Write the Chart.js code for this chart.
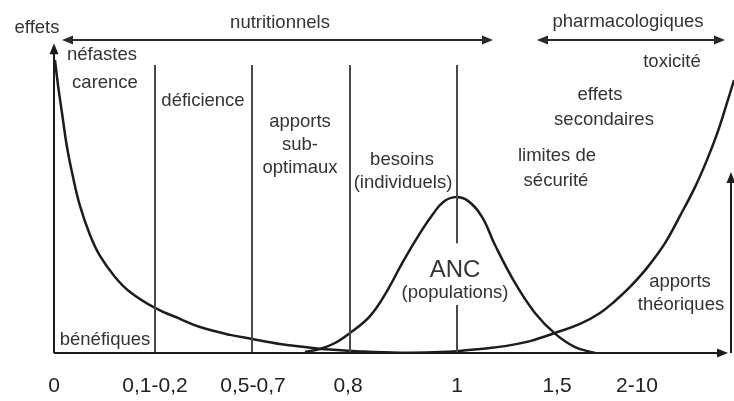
<!DOCTYPE html>
<html lang="fr">
<head>
<meta charset="utf-8">
<title>Apports nutritionnels et effets</title>
<script src="https://cdn.jsdelivr.net/npm/chart.js@4.4.1/dist/chart.umd.min.js"></script>
<style>
    html, body { margin: 0; padding: 0; background: #fff; }
    #chart { display: block; }
</style>
</head>
<body>
<canvas id="chart" width="734" height="401"></canvas>
<script>
// ========================================
// Données
// ========================================

// Graduations de l'axe des apports
const tickValues = [0, 1.01, 1.99, 2.94, 4.03, 5.03, 5.83];
const tickLabels = ['0', '0,1-0,2', '0,5-0,7', '0,8', '1', '1,5', '2-10'];

// Courbe en U : effets (néfastes en haut, bénéfiques en bas)
const effetsX = [0.01, 0.04, 0.08, 0.13, 0.19, 0.26, 0.36, 0.46, 0.61, 0.76, 1.01, 1.26, 1.46, 1.76, 1.98,
                 2.26, 2.46, 2.76, 3.06, 3.46, 3.86, 4.03, 4.26, 4.51, 4.76, 5.01, 5.26, 5.46, 5.61, 5.76,
                 5.93, 6.11, 6.26, 6.41, 6.53, 6.64, 6.73, 6.80];
const effetsY = [93.6, 85.6, 76.7, 65.8, 56.2, 47.0, 37.7, 31.0, 24.3, 19.5, 14.4, 10.9, 8.3, 5.8, 4.5,
                 2.9, 2.1, 1.1, 0.5, 0.1, 0.3, 0.6, 1.3, 2.2, 3.8, 6.4, 9.3, 12.8, 16.6, 21.1,
                 27.2, 35.1, 43.8, 53.0, 61.7, 70.9, 79.9, 87.2];

// Courbe en cloche : ANC (populations)
const ancX = [2.51, 2.66, 2.81, 2.96, 3.16, 3.33, 3.49, 3.66, 3.79, 3.89, 4.01, 4.14, 4.28, 4.41, 4.61,
              4.81, 5.01, 5.21, 5.41];
const ancY = [0.3, 1.3, 3.2, 6.4, 11.8, 19.8, 29.2, 38.3, 44.4, 48.2, 49.8, 48.6, 43.5, 34.5, 22.4,
              12.8, 6.2, 1.9, 0];

// Limites verticales entre les zones
const limitesX = [1.01, 1.98, 2.96, 4.03];
const limiteHaut = 92;
const coupureANC = [15.3, 35.1];   // trou dans la ligne "1" pour le texte ANC

// Flèches du haut (nutritionnels / pharmacologiques) et flèche de droite
const flechesHaut = [[0.08, 4.39], [4.83, 6.71]];
const flecheHautY = 100;
const flecheDroite = { x: 6.77, y: 57.8 };
const axeFinX = 6.74;
const axeFinY = 99;

// Textes (position en unités du graphique, ligne de base)
const textes = [
    { t: 'effets', x: -0.17, y: 102.2 },
    { t: 'nutritionnels', x: 2.26, y: 103.8 },
    { t: 'pharmacologiques', x: 5.74, y: 104.2 },
    { t: 'néfastes', x: 0.48, y: 93.6 },
    { t: 'carence', x: 0.51, y: 84.7 },
    { t: 'déficience', x: 1.49, y: 78.9 },
    { t: 'toxicité', x: 6.18, y: 91.4 },
    { t: 'effets', x: 5.46, y: 80.8 },
    { t: 'secondaires', x: 5.50, y: 72.8 },
    { t: 'apports', x: 2.46, y: 72.2 },
    { t: 'sub-', x: 2.46, y: 64.9 },
    { t: 'optimaux', x: 2.46, y: 57.5 },
    { t: 'besoins', x: 3.48, y: 60.1 },
    { t: '(individuels)', x: 3.49, y: 52.7 },
    { t: 'limites de', x: 5.03, y: 61.3 },
    { t: 'sécurité', x: 5.02, y: 53.4 },
    { t: 'ANC', x: 4.01, y: 24.3, big: true },
    { t: '(populations)', x: 4.01, y: 17.6 },
    { t: 'apports', x: 6.26, y: 21.1 },
    { t: 'théoriques', x: 6.27, y: 13.7 },
    { t: 'bénéfiques', x: 0.51, y: 2.6 }
];

const FONT = '"Liberation Sans", Arial, sans-serif';
const TEXT_COLOR = '#333';

// ========================================
// Jeux de données
// ========================================

function toPoints(xs, ys) {
    return xs.map((x, i) => ({ x: x, y: ys[i] }));
}

const datasets = [];

// lignes verticales
limitesX.forEach(x => {
    let pts;
    if (x === 4.03) {
        pts = [{ x: x, y: 0 }, { x: x, y: coupureANC[0] }, { x: x, y: null },
               { x: x, y: coupureANC[1] }, { x: x, y: limiteHaut }];
    } else {
        pts = [{ x: x, y: 0 }, { x: x, y: limiteHaut }];
    }
    datasets.push({
        data: pts,
        borderColor: '#4a4a4a',
        borderWidth: 2,
        pointRadius: 0,
        spanGaps: false,
        clip: false
    });
});

datasets.push({
    data: toPoints(effetsX, effetsY),
    borderColor: '#1c1c1c',
    borderWidth: 2.5,
    pointRadius: 0,
    tension: 0.4,
    clip: false
});

datasets.push({
    data: toPoints(ancX, ancY),
    borderColor: '#1c1c1c',
    borderWidth: 2.5,
    pointRadius: 0,
    tension: 0.4,
    clip: false
});

// ========================================
// Plugin : axes fléchés et textes
// ========================================

function arrowHead(ctx, x, y, angle) {
    const len = 11, half = 4.5;
    ctx.save();
    ctx.translate(x, y);
    ctx.rotate(angle);
    ctx.beginPath();
    ctx.moveTo(0, 0);
    ctx.lineTo(-len, -half);
    ctx.lineTo(-len, half);
    ctx.closePath();
    ctx.fill();
    ctx.restore();
}

function line(ctx, x1, y1, x2, y2) {
    ctx.beginPath();
    ctx.moveTo(x1, y1);
    ctx.lineTo(x2, y2);
    ctx.stroke();
}

const decorPlugin = {
    id: 'decor',
    afterDatasetsDraw(chart) {
        const ctx = chart.ctx;
        const xs = chart.scales.x;
        const ys = chart.scales.y;
        const px = v => xs.getPixelForValue(v);
        const py = v => ys.getPixelForValue(v);

        ctx.save();
        ctx.strokeStyle = '#1c1c1c';
        ctx.fillStyle = '#1c1c1c';
        ctx.lineWidth = 2;

        // axe des x
        line(ctx, px(0), py(0), px(axeFinX) - 6, py(0));
        arrowHead(ctx, px(axeFinX), py(0), 0);

        // axe des y
        line(ctx, px(0), py(0), px(0), py(axeFinY) + 6);
        arrowHead(ctx, px(0), py(axeFinY), -Math.PI / 2);

        // flèche de droite (apports théoriques)
        line(ctx, px(flecheDroite.x), py(0), px(flecheDroite.x), py(flecheDroite.y) + 6);
        arrowHead(ctx, px(flecheDroite.x), py(flecheDroite.y), -Math.PI / 2);

        // flèches du haut
        ctx.strokeStyle = '#2a2a2a';
        ctx.fillStyle = '#2a2a2a';
        ctx.lineWidth = 1.8;
        flechesHaut.forEach(([a, b]) => {
            line(ctx, px(a) + 6, py(flecheHautY), px(b) - 6, py(flecheHautY));
            arrowHead(ctx, px(a), py(flecheHautY), Math.PI);
            arrowHead(ctx, px(b), py(flecheHautY), 0);
        });

        // textes
        ctx.fillStyle = TEXT_COLOR;
        ctx.textAlign = 'center';
        ctx.textBaseline = 'alphabetic';
        textes.forEach(item => {
            ctx.font = (item.big ? '24px ' : '18.5px ') + FONT;
            ctx.fillText(item.t, px(item.x), py(item.y));
        });
        ctx.restore();
    }
};

// ========================================
// Création du graphique
// ========================================

new Chart(document.getElementById('chart'), {
    type: 'line',
    data: { datasets: datasets },
    options: {
        responsive: false,
        animation: false,
        devicePixelRatio: 1,
        layout: { padding: { left: 54, top: 40, right: 0, bottom: 0 } },
        plugins: {
            legend: { display: false },
            tooltip: { enabled: false }
        },
        scales: {
            x: {
                type: 'linear',
                min: 0,
                max: 6.8,
                grid: { display: false },
                border: { display: false },
                afterBuildTicks: scale => {
                    scale.ticks = tickValues.map(v => ({ value: v }));
                },
                afterFit: scale => { scale.height = 48; },
                ticks: {
                    autoSkip: false,
                    maxRotation: 0,
                    padding: 13,
                    color: '#222',
                    font: { family: FONT, size: 21 },
                    callback: (value, index) => tickLabels[index]
                }
            },
            y: {
                display: false,
                min: 0,
                max: 100
            }
        }
    },
    plugins: [decorPlugin]
});
</script>
</body>
</html>
